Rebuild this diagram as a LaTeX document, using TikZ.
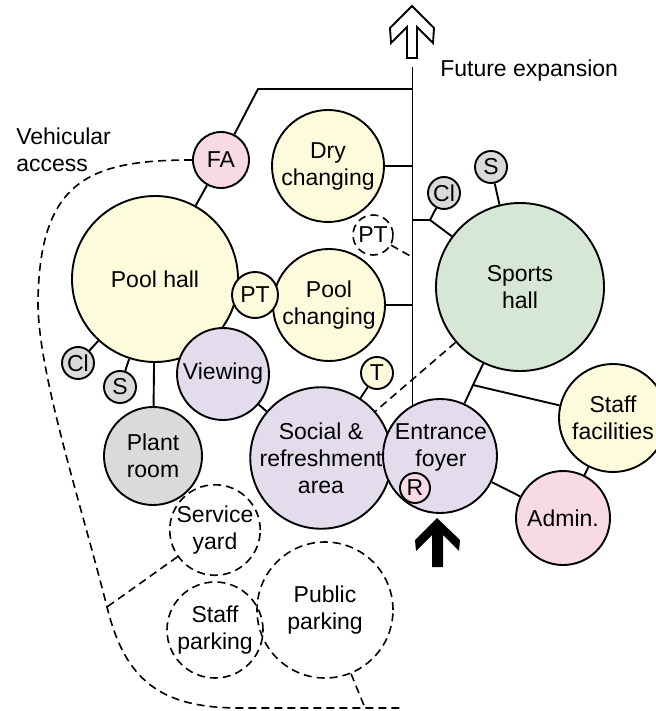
\documentclass[tikz,border=0pt]{standalone}
\usepackage{fontspec}
\setmainfont{Liberation Sans}
\usetikzlibrary{backgrounds}
\definecolor{wetyellow}{HTML}{FEFBDD}
\definecolor{socialpurple}{HTML}{E2DCEC}
\definecolor{sportsgreen}{HTML}{D6E8D5}
\definecolor{adminpink}{HTML}{F8D9E6}
\definecolor{plantgrey}{HTML}{D9DADB}

\begin{document}
\begin{tikzpicture}[x=1pt,y=-1pt,line width=1.9pt,
    every node/.style={font=\fontsize{23}{27}\selectfont},
    room/.style={circle,draw,inner sep=0pt,align=center},
    outdoor/.style={room,line width=1.6pt,dash pattern=on 8pt off 5pt},
    dashlink/.style={line width=1.6pt,dash pattern=on 8pt off 5pt}]
  \useasboundingbox (0,0) rectangle (655,711);

  % rooms
  \node[room,fill=wetyellow,minimum size=166pt] (pool) at (155,279) {Pool hall};
  \node[room,fill=adminpink,minimum size=56pt] (fa) at (221,160) {FA};
  \node[room,fill=wetyellow,minimum size=112pt] (dry) at (328,166) {Dry\\changing};
  \node[room,fill=wetyellow,minimum size=112pt] (poolch) at (329,305) {Pool\\changing};
  \node[room,fill=wetyellow,minimum size=46pt] (ptpool) at (255,295) {PT};
  \node[outdoor,fill=white,minimum size=40pt] (ptsports) at (373,235) {PT};
  \node[room,fill=sportsgreen,minimum size=168pt] (sports) at (520,287) {Sports\\hall};
  \node[room,fill=plantgrey,minimum size=32pt] (clsports) at (444,193) {Cl};
  \node[room,fill=plantgrey,minimum size=32pt] (ssports) at (491,167) {S};
  \node[room,fill=wetyellow,minimum size=108pt] (staff) at (613,418) {Staff\\facilities};
  \node[room,fill=adminpink,minimum size=94pt] (admin) at (563,518) {Admin.};
  \node[room,fill=socialpurple,minimum size=140pt] (social) at (321,458) {Social \&\\refreshment\\area};
  \node[room,fill=socialpurple,minimum size=114pt] (foyer) at (440,456) {};
  \node[align=center] (foyertext) at (441,447) {Entrance\\foyer};
  \node[room,fill=adminpink,minimum size=30pt] (reception) at (415,488) {R};
  \node[room,fill=wetyellow,minimum size=32pt] (toilet) at (377,373) {T};
  \node[room,fill=socialpurple,minimum size=92pt] (viewing) at (223,374) {Viewing};
  \node[room,fill=plantgrey,minimum size=98pt] (plant) at (153,456) {Plant\\room};
  \node[room,fill=plantgrey,minimum size=32pt] (clpool) at (78,363) {Cl};
  \node[room,fill=plantgrey,minimum size=32pt] (spool) at (120,387) {S};
  \node[outdoor,minimum size=86pt] (service) at (215,530) {Service\\yard};
  \node[outdoor,minimum size=96pt] (staffpark) at (215,630) {Staff\\parking};
  \node[outdoor,minimum size=136pt] (publicpark) at (325,610) {Public\\parking};

  \node[anchor=west] (future) at (436,71) {Future expansion};
  \node[anchor=west,align=left] (vehicular) at (12,150) {Vehicular\\access};

  \coordinate (spinetop) at (412,67);
  \coordinate (famid) at (258,89);
  \coordinate (jsports) at (430,220);
  \coordinate (jfoyer) at (473,385);
  \coordinate (roadjoin) at (107,607);
  \coordinate (roadend) at (403,708);
  \coordinate (parkdrop) at (365,708);

  \begin{scope}[on background layer]
    \draw (spinetop) -- (spinetop |- foyer.center);
  \end{scope}

  % links
  \draw (fa) -- (famid) -- (famid -| spinetop);
  \draw (fa) -- (pool);
  \draw (dry.east) -- (dry.east -| spinetop);
  \draw (poolch.east) -- (poolch.east -| spinetop);
  \draw[dashlink] (ptsports) -- (412,257);
  \draw (jsports -| spinetop) -- (jsports) -- (clsports);
  \draw (jsports) -- (sports);
  \draw (ssports) -- (sports.104);
  \draw (sports) -- (jfoyer) -- (foyer);
  \draw (jfoyer) -- (staff);
  \draw (staff) -- (admin);
  \draw (foyer) -- (admin);
  \draw[dashlink] (sports) -- (social);
  \draw (toilet) -- (social);
  \draw (viewing) -- (social);
  \draw (pool) -- (plant);
  \draw (clpool) -- (pool);
  \draw (spool) -- (pool);
  \draw[dashlink] (service) -- (roadjoin);
  \draw[dashlink] (publicpark) -- (parkdrop);

  % vehicular access
  \draw[dashlink] (fa.west) .. controls (90,160) and (40,180) .. (38,300)
    .. controls (37,370) and (80,500) .. (roadjoin)
    .. controls (125,680) and (160,708) .. (240,708) -- (roadend);

  % arrows
  \draw[line join=miter] (412,6) -- (390,28) -- (391,43) -- (407,27) -- (407,58)
    -- (417,58) -- (417,27) -- (433,43) -- (434,28) -- cycle;
  \fill (437,518) -- (415,540) -- (416,551) -- (432,535) -- (432,567)
    -- (443,567) -- (443,535) -- (459,551) -- (460,540) -- cycle;
\end{tikzpicture}
\end{document}
